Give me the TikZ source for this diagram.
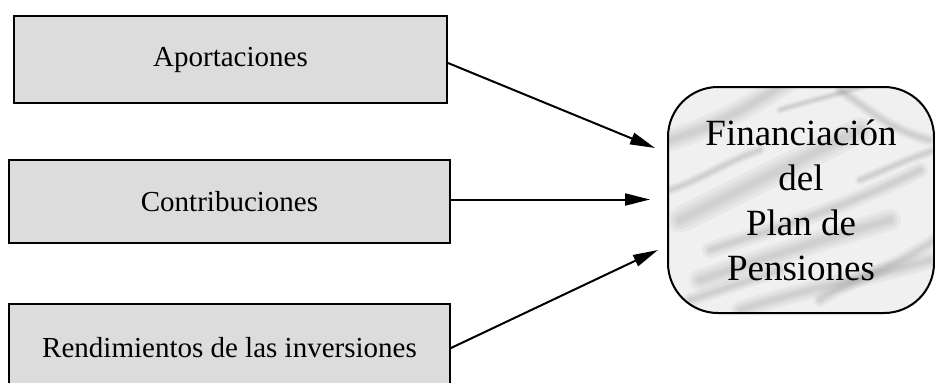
\documentclass[tikz,border=0pt]{standalone}
\usepackage{fontspec}
\setmainfont{Liberation Serif}
\usetikzlibrary{arrows.meta,backgrounds}
\definecolor{boxgray}{HTML}{DCDCDC}
\definecolor{marble}{HTML}{F0F0F1}
\definecolor{vein}{HTML}{7A7A7A}
% a soft grey streak: several strokes of falling width build a blurred edge
\newcommand\softvein[2]{%
  \foreach \w in {1,0.7,0.45,0.25}{%
    \draw[vein,line cap=round,opacity=0.07,line width=\w*#1] #2;}}
\begin{document}
\begin{tikzpicture}[x=1pt,y=-1pt,
  srcbox/.style={draw=black,line width=2pt,fill=boxgray,inner sep=0pt,
    font=\fontsize{29}{34}\selectfont},
  flow/.style={line width=2pt,-{Triangle[length=25pt,width=12pt]}}]
\useasboundingbox (0,0) rectangle (935,383);

% source boxes
\node[srcbox,minimum width=433pt,minimum height=87pt] (apo) at (230.5,59.5) {Aportaciones};
\node[srcbox,minimum width=441pt,minimum height=83pt] (con) at (229.5,201.5) {Contribuciones};
\node[srcbox,minimum width=441pt,minimum height=88pt] (ren) at (229.5,348) {Rendimientos de las inversiones};

% target box; its marbled fill sits on the background layer
\node[draw=black,line width=2pt,rounded corners=50pt,
  minimum width=266pt,minimum height=226pt,inner sep=0pt,align=center,
  font=\fontsize{37}{45}\selectfont] (fin) at (801,200)
  {Financiación\\del\\Plan de\\Pensiones};

\begin{scope}[on background layer]
  \fill[marble,rounded corners=50pt] (fin.south west) rectangle (fin.north east);
  \clip[rounded corners=50pt] (fin.south west) rectangle (fin.north east);
  \softvein{22pt}{(670,140) .. controls (720,125) and (760,100) .. (790,80)}
  \softvein{26pt}{(680,220) .. controls (740,190) and (800,160) .. (860,130)}
  \softvein{16pt}{(710,250) .. controls (770,230) and (840,210) .. (920,170)}
  \softvein{22pt}{(700,280) .. controls (760,260) and (820,240) .. (890,220)}
  \softvein{12pt}{(840,90) .. controls (870,110) and (890,130) .. (930,140)}
  \softvein{18pt}{(740,310) .. controls (800,290) and (860,280) .. (930,260)}
  \softvein{10pt}{(670,190) .. controls (700,180) and (730,160) .. (760,150)}
  \softvein{14pt}{(820,300) .. controls (850,280) and (890,270) .. (935,240)}
  \softvein{8pt}{(780,110) .. controls (810,100) and (840,95) .. (880,80)}
  \softvein{14pt}{(690,300) -- (780,270)}
  \softvein{10pt}{(860,180) .. controls (885,170) and (905,160) .. (935,150)}
\end{scope}

% arrow tips stop just short of the target box
\coordinate (t1) at (655,148);
\coordinate (t2) at (650,199.5);
\coordinate (t3) at (658,250);

\draw[flow] (apo.east |- 0,63) -- (t1);
\draw[flow] (con.east |- 0,199.5) -- (t2);
\draw[flow] (ren.east |- 0,348) -- (t3);
\end{tikzpicture}
\end{document}
